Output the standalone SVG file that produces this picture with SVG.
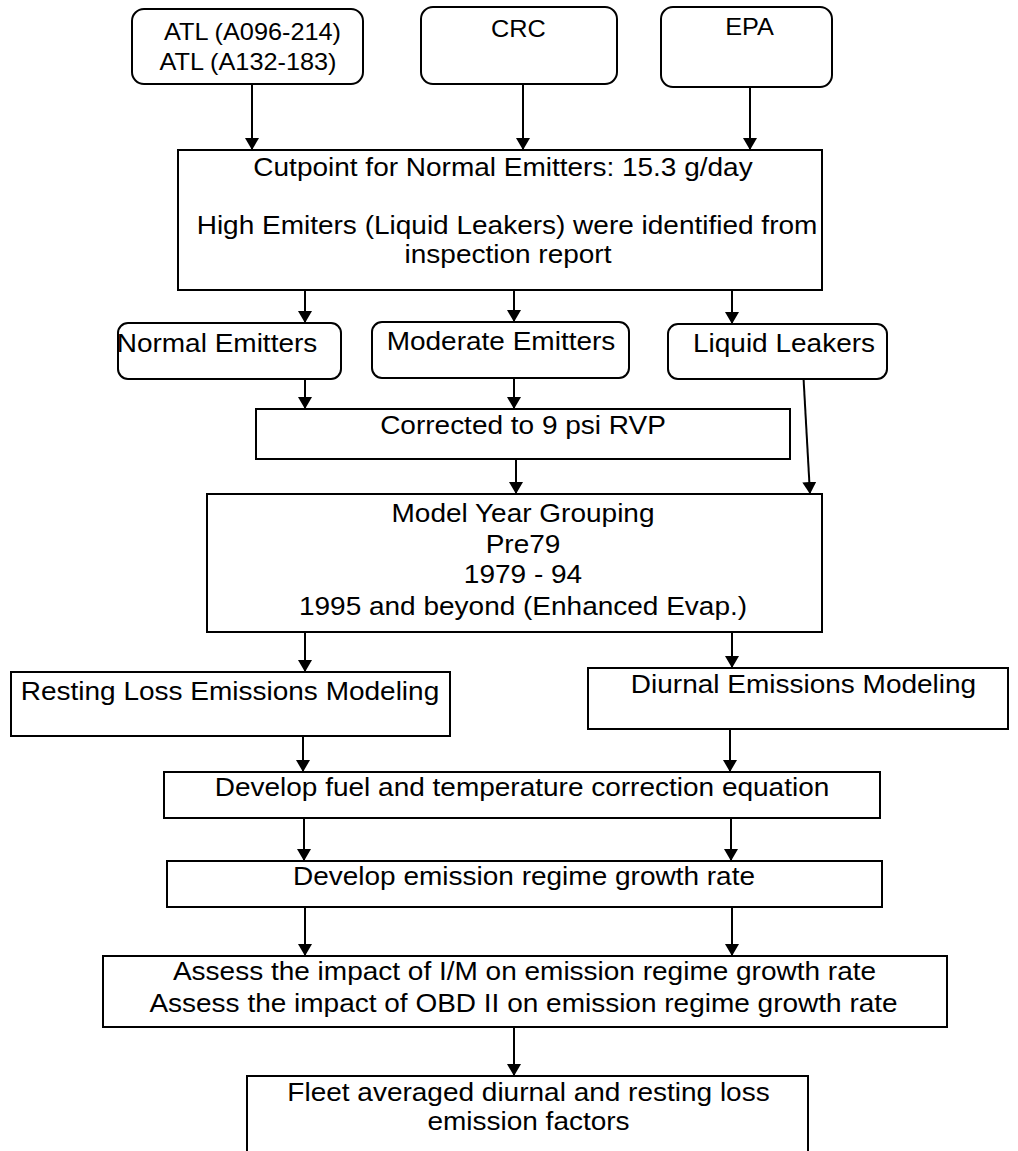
<svg xmlns="http://www.w3.org/2000/svg" width="1018" height="1151" viewBox="0 0 1018 1151">
<style>
  .box{fill:#fff;stroke:#000;stroke-width:2}
  .t{font-family:"Liberation Sans",Arial,sans-serif;font-size:25px;fill:#000;text-anchor:middle}
  .ts{font-family:"Liberation Sans",Arial,sans-serif;font-size:23px;fill:#000;text-anchor:middle}
  .c{stroke:#000;stroke-width:2;fill:none}
</style>
<defs>
  <marker id="ah" markerWidth="12" markerHeight="14" refX="12" refY="7" orient="auto" markerUnits="userSpaceOnUse" viewBox="0 0 12 14">
    <path d="M0,0 L12,7 L0,14 z" fill="#000"/>
  </marker>
</defs>
<rect width="1018" height="1151" fill="#fff"/>

<g id="connectors">
  <line class="c" x1="252" y1="84" x2="252" y2="150" marker-end="url(#ah)"/>
  <line class="c" x1="523" y1="84" x2="523" y2="150" marker-end="url(#ah)"/>
  <line class="c" x1="750" y1="87" x2="750" y2="150" marker-end="url(#ah)"/>
  <line class="c" x1="305" y1="290" x2="305" y2="323" marker-end="url(#ah)"/>
  <line class="c" x1="514" y1="290" x2="514" y2="322" marker-end="url(#ah)"/>
  <line class="c" x1="732" y1="290" x2="732" y2="324" marker-end="url(#ah)"/>
  <line class="c" x1="305" y1="379" x2="305" y2="409" marker-end="url(#ah)"/>
  <line class="c" x1="514" y1="378" x2="514" y2="409" marker-end="url(#ah)"/>
  <line class="c" x1="516" y1="459" x2="516" y2="494" marker-end="url(#ah)"/>
  <line class="c" x1="803" y1="369" x2="810" y2="494" marker-end="url(#ah)"/>
  <line class="c" x1="305" y1="632" x2="305" y2="672" marker-end="url(#ah)"/>
  <line class="c" x1="732" y1="632" x2="732" y2="668" marker-end="url(#ah)"/>
  <line class="c" x1="303" y1="736" x2="303" y2="772" marker-end="url(#ah)"/>
  <line class="c" x1="730" y1="729" x2="730" y2="772" marker-end="url(#ah)"/>
  <line class="c" x1="304" y1="818" x2="304" y2="861" marker-end="url(#ah)"/>
  <line class="c" x1="731" y1="818" x2="731" y2="861" marker-end="url(#ah)"/>
  <line class="c" x1="305" y1="907" x2="305" y2="956" marker-end="url(#ah)"/>
  <line class="c" x1="732" y1="907" x2="732" y2="956" marker-end="url(#ah)"/>
  <line class="c" x1="514" y1="1027" x2="514" y2="1076" marker-end="url(#ah)"/>
</g>

<g id="atl">
  <rect class="box" x="132" y="9" width="231" height="75" rx="12"/>
  <text class="ts" transform="translate(252.5,40) scale(1.1,1)">ATL (A096-214)</text>
  <text class="ts" transform="translate(248,70) scale(1.1,1)">ATL (A132-183)</text>
</g>
<g id="crc">
  <rect class="box" x="421" y="7" width="196" height="77" rx="12"/>
  <text class="ts" transform="translate(518.5,37) scale(1.1,1)">CRC</text>
</g>
<g id="epa">
  <rect class="box" x="661" y="7" width="171" height="80" rx="12"/>
  <text class="ts" transform="translate(749.5,35) scale(1.1,1)">EPA</text>
</g>

<g id="cutpoint">
  <rect class="box" x="178" y="150" width="644" height="140"/>
  <text class="t" transform="translate(503,176) scale(1.12,1)">Cutpoint for Normal Emitters: 15.3 g/day</text>
  <text class="t" transform="translate(507,234) scale(1.12,1)">High Emiters (Liquid Leakers) were identified from</text>
  <text class="t" transform="translate(508,263) scale(1.12,1)">inspection report</text>
</g>

<g id="normal">
  <rect class="box" x="118" y="323" width="223" height="56" rx="10"/>
  <text class="t" transform="translate(217,352) scale(1.12,1)">Normal Emitters</text>
</g>
<g id="moderate">
  <rect class="box" x="372" y="322" width="257" height="56" rx="10"/>
  <text class="t" transform="translate(501,350) scale(1.12,1)">Moderate Emitters</text>
</g>
<g id="liquid">
  <rect class="box" x="668" y="324" width="219" height="55" rx="10"/>
  <text class="t" transform="translate(784,352) scale(1.12,1)">Liquid Leakers</text>
</g>

<g id="corrected">
  <rect class="box" x="256" y="409" width="534" height="50"/>
  <text class="t" transform="translate(523,434) scale(1.12,1)">Corrected to 9 psi RVP</text>
</g>

<g id="modelyear">
  <rect class="box" x="207" y="494" width="615" height="138"/>
  <text class="t" transform="translate(523,522) scale(1.12,1)">Model Year Grouping</text>
  <text class="t" transform="translate(523,553) scale(1.12,1)">Pre79</text>
  <text class="t" transform="translate(523,583) scale(1.12,1)">1979 - 94</text>
  <text class="t" transform="translate(523,615) scale(1.12,1)">1995 and beyond (Enhanced Evap.)</text>
</g>

<g id="resting">
  <rect class="box" x="11" y="672" width="439" height="64"/>
  <text class="t" transform="translate(230,700) scale(1.12,1)">Resting Loss Emissions Modeling</text>
</g>
<g id="diurnal">
  <rect class="box" x="588" y="668" width="420" height="61"/>
  <text class="t" transform="translate(803.5,693) scale(1.12,1)">Diurnal Emissions Modeling</text>
</g>

<g id="fuel">
  <rect class="box" x="164" y="772" width="716" height="46"/>
  <text class="t" transform="translate(522,796) scale(1.12,1)">Develop fuel and temperature correction equation</text>
</g>

<g id="growth">
  <rect class="box" x="167" y="861" width="715" height="46"/>
  <text class="t" transform="translate(524,885) scale(1.12,1)">Develop emission regime growth rate</text>
</g>

<g id="assess">
  <rect class="box" x="103" y="956" width="844" height="71"/>
  <text class="t" transform="translate(524.5,980) scale(1.12,1)">Assess the impact of I/M on emission regime growth rate</text>
  <text class="t" transform="translate(523.5,1012) scale(1.12,1)">Assess the impact of OBD II on emission regime growth rate</text>
</g>

<g id="fleet">
  <rect class="box" x="247" y="1076" width="561" height="90"/>
  <text class="t" transform="translate(528.5,1101) scale(1.12,1)">Fleet averaged diurnal and resting loss</text>
  <text class="t" transform="translate(528.5,1130) scale(1.12,1)">emission factors</text>
</g>
</svg>
